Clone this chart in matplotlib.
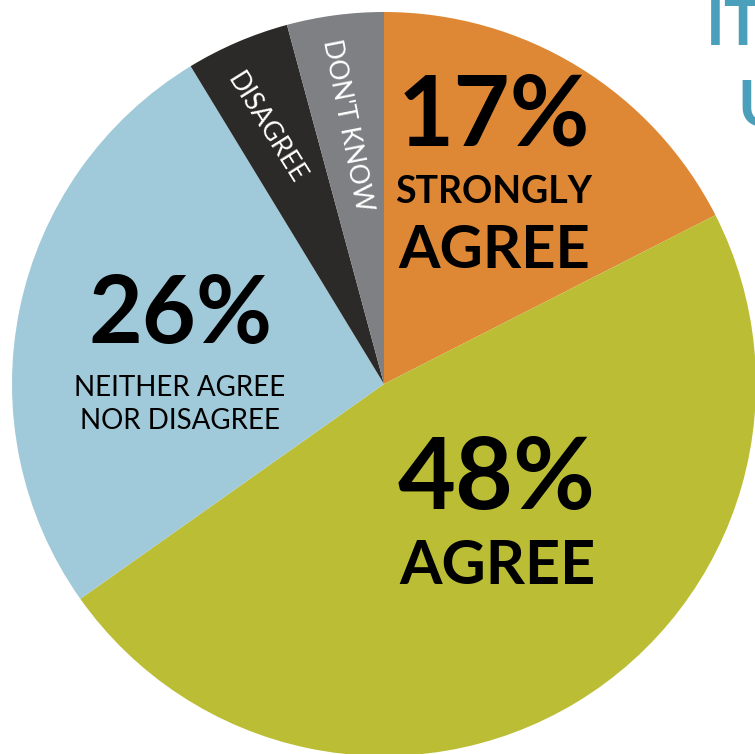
import matplotlib
matplotlib.use('Agg')
import matplotlib.pyplot as plt

plt.rcParams['font.family'] = ['Lato', 'DejaVu Sans']

# slices, clockwise from 12 o'clock (shares)
labels = ['STRONGLY AGREE', 'AGREE', 'NEITHER AGREE NOR DISAGREE', 'DISAGREE', "DON'T KNOW"]
shares = [17.5, 47.7, 26.1, 4.5, 4.2]
colors = ['#DE8835', '#BBBE35', '#A0CAD9', '#2B2A29', '#7F8083']

W, H = 755, 754
fig = plt.figure(figsize=(W / 100, H / 100), dpi=100)
ax = fig.add_axes([0, 0, 1, 1])

cx, cy, r = 384, H - 384, 372
ax.pie(shares, colors=colors, startangle=90, counterclock=False,
       center=(cx, cy), radius=r, frame=True,
       wedgeprops=dict(linewidth=0))
ax.set_xlim(0, W)
ax.set_ylim(0, H)
ax.set_aspect('equal')
ax.axis('off')

def t(x, y, s, size, weight='normal', color='black', rot=0):
    ax.text(x, H - y, s, fontsize=size, fontweight=weight, color=color,
            ha='center', va='center', rotation=rot, rotation_mode='anchor')

t(494, 117, '17%', 70, 'bold')
t(494, 192, 'STRONGLY', 27, 'bold')
t(494, 251, 'AGREE', 43, 'bold')
t(181, 316, '26%', 67, 'bold')
t(180, 388, 'NEITHER AGREE', 20)
t(180, 421, 'NOR DISAGREE', 20)
t(497, 481, '48%', 72, 'bold')
t(497, 566, 'AGREE', 44, 'bold')
t(266, 128, 'DISAGREE', 19, color='white', rot=-58)
t(347, 125, "DON'T KNOW", 19, color='white', rot=-79)

# cropped title fragments at the top right edge
ax.text(706, H - 45, 'IT', fontsize=46, fontweight='bold', color='#4A9FBA',
        ha='left', va='baseline')
ax.text(737, H - 125, 'U', fontsize=46, fontweight='bold', color='#4A9FBA',
        ha='left', va='baseline')

fig.savefig('out.png', dpi=100)
